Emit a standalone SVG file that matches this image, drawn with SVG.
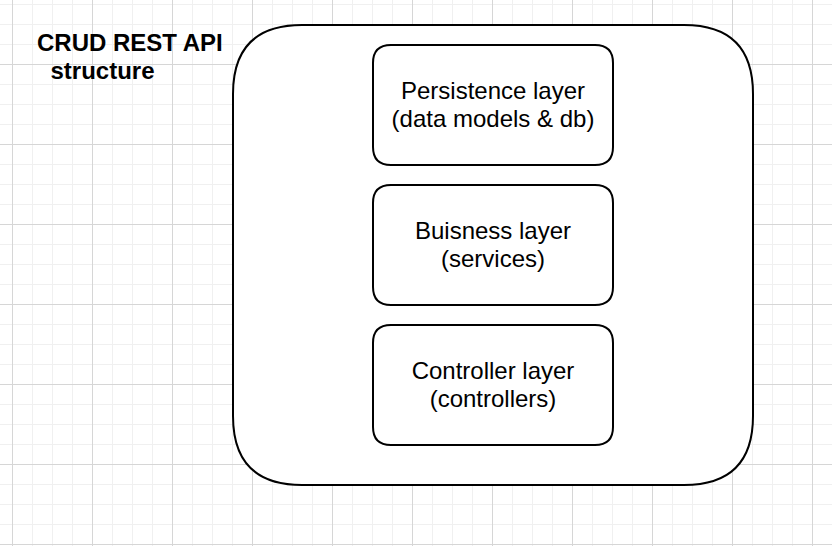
<svg xmlns="http://www.w3.org/2000/svg" width="832" height="546" viewBox="0 0 832 546">
<style>
.title{font-family:"Liberation Sans",Arial,sans-serif;font-weight:bold;font-size:24px;fill:#000}
.lbl{font-family:"Liberation Sans",Arial,sans-serif;font-size:24px;fill:#000;text-anchor:middle}
.box{fill:#fff;stroke:#000;stroke-width:2}
</style>
<defs>
<pattern id="grid" patternUnits="userSpaceOnUse" x="12" y="-16" width="80" height="80">
<path d="M20.5 0V80M40.5 0V80M60.5 0V80M0 20.5H80M0 40.5H80M0 60.5H80" stroke="#f0f0f0" stroke-width="1" fill="none"/>
<path d="M0.5 0V80M0 0.5H80" stroke="#d6d6d6" stroke-width="1" fill="none"/>
</pattern>
</defs>
<rect width="832" height="546" fill="#fff"/>
<rect width="832" height="546" fill="url(#grid)"/>
<g id="title">
<text class="title" x="37" y="50.7">CRUD REST API</text>
<text class="title" x="50.5" y="79">structure</text>
</g>
<g id="container">
<path class="box" d="M302 25H684Q753 25 753 94V416Q753 485 684 485H302Q233 485 233 416V94Q233 25 302 25Z"/>
</g>
<g id="persistence">
<path class="box" d="M391 45H595Q613 45 613 63V147Q613 165 595 165H391Q373 165 373 147V63Q373 45 391 45Z"/>
<text class="lbl" x="493" y="98.7">Persistence layer</text>
<text class="lbl" x="493" y="127">(data models &amp; db)</text>
</g>
<g id="business">
<path class="box" d="M391 185H595Q613 185 613 203V287Q613 305 595 305H391Q373 305 373 287V203Q373 185 391 185Z"/>
<text class="lbl" x="493" y="238.7">Buisness layer</text>
<text class="lbl" x="493" y="267">(services)</text>
</g>
<g id="controller">
<path class="box" d="M391 325H595Q613 325 613 343V427Q613 445 595 445H391Q373 445 373 427V343Q373 325 391 325Z"/>
<text class="lbl" x="493" y="378.7">Controller layer</text>
<text class="lbl" x="493" y="407">(controllers)</text>
</g>
<g id="connectors"></g>
</svg>
